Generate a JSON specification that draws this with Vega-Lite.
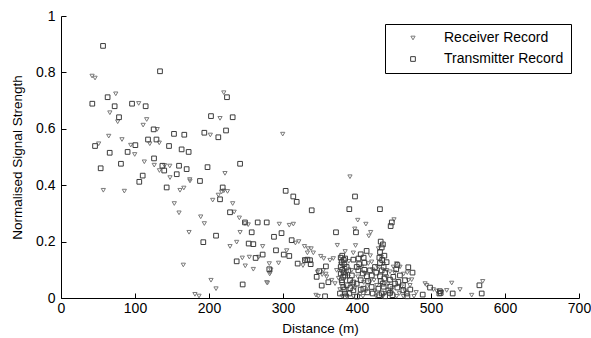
{
"$schema":"https://vega.github.io/schema/vega-lite/v6.json",
"width":518,"height":282,
"autosize":{"type":"none"},
"padding":{"left":61,"top":16,"right":12,"bottom":40},
"background":"white",
"config":{"view":{"stroke":null},"font":"Liberation Sans",
"axis":{"domainColor":"#000","tickColor":"#000","labelColor":"#000","titleColor":"#000","grid":false,"labelFont":"Liberation Sans","titleFont":"Liberation Sans","labelFontSize":14,"titleFontSize":13.5,"titleFontWeight":"normal","tickSize":-5,"domainWidth":1,"tickWidth":1}},
"data":{"values":[
{"d":42,"v":0.787,"r":"R"},{"d":46,"v":0.78,"r":"R"},{"d":74,"v":0.724,"r":"R"},{"d":66,"v":0.657,"r":"R"},{"d":76.6,"v":0.625,"r":"R"},{"d":64.5,"v":0.574,"r":"R"},{"d":82.4,"v":0.562,"r":"R"},{"d":50.9,"v":0.547,"r":"R"},{"d":105,"v":0.69,"r":"R"},{"d":115.8,"v":0.633,"r":"R"},{"d":111,"v":0.613,"r":"R"},{"d":130,"v":0.598,"r":"R"},{"d":94.2,"v":0.542,"r":"R"},{"d":99.6,"v":0.509,"r":"R"},{"d":120,"v":0.547,"r":"R"},{"d":132.8,"v":0.55,"r":"R"},{"d":112.6,"v":0.483,"r":"R"},{"d":126,"v":0.471,"r":"R"},{"d":140,"v":0.47,"r":"R"},{"d":147,"v":0.468,"r":"R"},{"d":133,"v":0.452,"r":"R"},{"d":201.8,"v":0.578,"r":"R"},{"d":214.9,"v":0.637,"r":"R"},{"d":220,"v":0.728,"r":"R"},{"d":299.6,"v":0.581,"r":"R"},{"d":57.2,"v":0.382,"r":"R"},{"d":85.6,"v":0.379,"r":"R"},{"d":147.3,"v":0.427,"r":"R"},{"d":160.8,"v":0.382,"r":"R"},{"d":166,"v":0.39,"r":"R"},{"d":153.1,"v":0.335,"r":"R"},{"d":159.5,"v":0.302,"r":"R"},{"d":173,"v":0.233,"r":"R"},{"d":165.3,"v":0.117,"r":"R"},{"d":174,"v":0.42,"r":"R"},{"d":188.8,"v":0.288,"r":"R"},{"d":193.7,"v":0.264,"r":"R"},{"d":181,"v":0.013,"r":"R"},{"d":186.5,"v":0.007,"r":"R"},{"d":202.7,"v":0.063,"r":"R"},{"d":209.5,"v":0.033,"r":"R"},{"d":205,"v":0.347,"r":"R"},{"d":212.6,"v":0.365,"r":"R"},{"d":220,"v":0.38,"r":"R"},{"d":225,"v":0.378,"r":"R"},{"d":232,"v":0.335,"r":"R"},{"d":221.6,"v":0.442,"r":"R"},{"d":234,"v":0.305,"r":"R"},{"d":241,"v":0.284,"r":"R"},{"d":242,"v":0.233,"r":"R"},{"d":237.4,"v":0.198,"r":"R"},{"d":228.4,"v":0.183,"r":"R"},{"d":245,"v":0.142,"r":"R"},{"d":249,"v":0.114,"r":"R"},{"d":254.5,"v":0.145,"r":"R"},{"d":253,"v":0.26,"r":"R"},{"d":259.9,"v":0.102,"r":"R"},{"d":267,"v":0.145,"r":"R"},{"d":272.5,"v":0.183,"r":"R"},{"d":278,"v":0.055,"r":"R"},{"d":282.8,"v":0.09,"r":"R"},{"d":294,"v":0.124,"r":"R"},{"d":295,"v":0.262,"r":"R"},{"d":308.5,"v":0.258,"r":"R"},{"d":314,"v":0.262,"r":"R"},{"d":316.8,"v":0.195,"r":"R"},{"d":321.3,"v":0.2,"r":"R"},{"d":217,"v":0.376,"r":"R"},{"d":174.3,"v":0.415,"r":"R"},{"d":248.6,"v":0.264,"r":"R"},{"d":390.5,"v":0.43,"r":"R"},{"d":401,"v":0.276,"r":"R"},{"d":412,"v":0.262,"r":"R"},{"d":418.5,"v":0.233,"r":"R"},{"d":416,"v":0.22,"r":"R"},{"d":397,"v":0.245,"r":"R"},{"d":450,"v":0.278,"r":"R"},{"d":373.4,"v":0.187,"r":"R"},{"d":398,"v":0.186,"r":"R"},{"d":347.7,"v":0.006,"r":"R"},{"d":329,"v":0.183,"r":"R"},{"d":334,"v":0.175,"r":"R"},{"d":338,"v":0.175,"r":"R"},{"d":341,"v":0.16,"r":"R"},{"d":355,"v":0.14,"r":"R"},{"d":327,"v":0.115,"r":"R"},{"d":305,"v":0.168,"r":"R"},{"d":333,"v":0.16,"r":"R"},{"d":351,"v":0.148,"r":"R"},{"d":329,"v":0.136,"r":"R"},{"d":281.5,"v":0.122,"r":"R"},{"d":282,"v":0.085,"r":"R"},{"d":283.6,"v":0.1,"r":"R"},{"d":279,"v":0.053,"r":"R"},{"d":346.5,"v":0.092,"r":"R"},{"d":353,"v":0.083,"r":"R"},{"d":358,"v":0.085,"r":"R"},{"d":344.6,"v":0.01,"r":"R"},
{"d":372.5,"v":0.098,"r":"R"},{"d":381.5,"v":0.11,"r":"R"},{"d":388.3,"v":0.075,"r":"R"},{"d":392.8,"v":0.098,"r":"R"},{"d":406.3,"v":0.11,"r":"R"},{"d":410.8,"v":0.087,"r":"R"},{"d":415.3,"v":0.122,"r":"R"},{"d":419.8,"v":0.128,"r":"R"},{"d":423,"v":0.063,"r":"R"},{"d":426.6,"v":0.045,"r":"R"},{"d":417.6,"v":0.057,"r":"R"},{"d":412.2,"v":0.025,"r":"R"},{"d":404.1,"v":0.013,"r":"R"},{"d":395.1,"v":0.006,"r":"R"},{"d":386.1,"v":0.006,"r":"R"},{"d":425.7,"v":0.007,"r":"R"},{"d":437.9,"v":0.016,"r":"R"},{"d":446.9,"v":0.018,"r":"R"},{"d":453.6,"v":0.006,"r":"R"},{"d":457.2,"v":0.016,"r":"R"},{"d":462.6,"v":0.006,"r":"R"},{"d":471.6,"v":0.045,"r":"R"},{"d":473.9,"v":0.065,"r":"R"},{"d":477,"v":0.006,"r":"R"},{"d":492,"v":0.051,"r":"R"},{"d":494.2,"v":0.045,"r":"R"},{"d":503.2,"v":0.03,"r":"R"},{"d":507.7,"v":0.025,"r":"R"},{"d":514.4,"v":0.021,"r":"R"},{"d":521.2,"v":0.027,"r":"R"},{"d":528,"v":0.053,"r":"R"},{"d":539.2,"v":0.03,"r":"R"},{"d":555,"v":0.01,"r":"R"},{"d":569.9,"v":0.059,"r":"R"},{"d":440.1,"v":0.098,"r":"R"},{"d":444.6,"v":0.093,"r":"R"},{"d":449.1,"v":0.11,"r":"R"},{"d":453.6,"v":0.122,"r":"R"},{"d":458.1,"v":0.11,"r":"R"},{"d":469.4,"v":0.063,"r":"R"},{"d":368,"v":0.14,"r":"R"},{"d":363.5,"v":0.134,"r":"R"},{"d":354.5,"v":0.098,"r":"R"},{"d":359,"v":0.075,"r":"R"},{"d":365.8,"v":0.063,"r":"R"},{"d":370.3,"v":0.051,"r":"R"},{"d":463,"v":0.085,"r":"R"},
{"d":378,"v":0.12,"r":"R"},{"d":384,"v":0.165,"r":"R"},{"d":389,"v":0.13,"r":"R"},{"d":392,"v":0.05,"r":"R"},{"d":397,"v":0.035,"r":"R"},{"d":401,"v":0.075,"r":"R"},{"d":409,"v":0.055,"r":"R"},{"d":414,"v":0.04,"r":"R"},{"d":421,"v":0.1,"r":"R"},{"d":424,"v":0.025,"r":"R"},{"d":429,"v":0.175,"r":"R"},{"d":433,"v":0.145,"r":"R"},{"d":436,"v":0.12,"r":"R"},{"d":440,"v":0.075,"r":"R"},{"d":442,"v":0.05,"r":"R"},{"d":448,"v":0.035,"r":"R"},{"d":451,"v":0.09,"r":"R"},{"d":460,"v":0.04,"r":"R"},{"d":465,"v":0.025,"r":"R"},{"d":375,"v":0.07,"r":"R"},{"d":377,"v":0.03,"r":"R"},{"d":386,"v":0.09,"r":"R"},{"d":395,"v":0.16,"r":"R"},{"d":418,"v":0.15,"r":"R"},{"d":428,"v":0.11,"r":"R"},{"d":380,"v":0.006,"r":"R"},{"d":408,"v":0.006,"r":"R"},{"d":435,"v":0.006,"r":"R"},{"d":468,"v":0.09,"r":"R"},{"d":480,"v":0.02,"r":"R"},
{"d":56.8,"v":0.894,"r":"T"},{"d":133.8,"v":0.804,"r":"T"},{"d":42.3,"v":0.689,"r":"T"},{"d":63,"v":0.712,"r":"T"},{"d":72.5,"v":0.68,"r":"T"},{"d":96,"v":0.689,"r":"T"},{"d":114.4,"v":0.68,"r":"T"},{"d":78.4,"v":0.641,"r":"T"},{"d":125.2,"v":0.598,"r":"T"},{"d":46,"v":0.539,"r":"T"},{"d":65.8,"v":0.515,"r":"T"},{"d":81,"v":0.476,"r":"T"},{"d":53.6,"v":0.46,"r":"T"},{"d":90,"v":0.518,"r":"T"},{"d":100.5,"v":0.542,"r":"T"},{"d":117.6,"v":0.562,"r":"T"},{"d":129,"v":0.562,"r":"T"},{"d":125.7,"v":0.495,"r":"T"},{"d":137,"v":0.469,"r":"T"},{"d":139.5,"v":0.452,"r":"T"},{"d":146,"v":0.539,"r":"T"},{"d":152.7,"v":0.582,"r":"T"},{"d":166.6,"v":0.579,"r":"T"},{"d":163,"v":0.527,"r":"T"},{"d":172.5,"v":0.518,"r":"T"},{"d":159.5,"v":0.469,"r":"T"},{"d":169.8,"v":0.457,"r":"T"},{"d":198,"v":0.464,"r":"T"},{"d":242,"v":0.476,"r":"T"},{"d":193.7,"v":0.586,"r":"T"},{"d":212.6,"v":0.57,"r":"T"},{"d":223,"v":0.594,"r":"T"},{"d":202.7,"v":0.645,"r":"T"},{"d":232,"v":0.641,"r":"T"},{"d":224.3,"v":0.712,"r":"T"},
{"d":105.8,"v":0.412,"r":"T"},{"d":110.4,"v":0.434,"r":"T"},{"d":142.8,"v":0.392,"r":"T"},{"d":156.4,"v":0.439,"r":"T"},{"d":187.8,"v":0.415,"r":"T"},{"d":218.5,"v":0.392,"r":"T"},{"d":214.9,"v":0.35,"r":"T"},{"d":228.4,"v":0.304,"r":"T"},{"d":192.3,"v":0.198,"r":"T"},{"d":209.5,"v":0.221,"r":"T"},{"d":248.6,"v":0.268,"r":"T"},{"d":265.8,"v":0.268,"r":"T"},{"d":278,"v":0.268,"r":"T"},{"d":257.7,"v":0.233,"r":"T"},{"d":253.6,"v":0.193,"r":"T"},{"d":259.9,"v":0.191,"r":"T"},{"d":287.8,"v":0.217,"r":"T"},{"d":298,"v":0.23,"r":"T"},{"d":237.4,"v":0.13,"r":"T"},{"d":263,"v":0.142,"r":"T"},{"d":272.5,"v":0.154,"r":"T"},{"d":290.5,"v":0.169,"r":"T"},{"d":301,"v":0.154,"r":"T"},{"d":308.5,"v":0.149,"r":"T"},{"d":281.5,"v":0.102,"r":"T"},{"d":245.5,"v":0.048,"r":"T"},{"d":303.6,"v":0.38,"r":"T"},{"d":313.9,"v":0.36,"r":"T"},{"d":318.5,"v":0.341,"r":"T"},{"d":311.7,"v":0.205,"r":"T"},{"d":319.8,"v":0.122,"r":"T"},
{"d":397.3,"v":0.36,"r":"T"},{"d":389.6,"v":0.315,"r":"T"},{"d":431,"v":0.315,"r":"T"},{"d":338.8,"v":0.311,"r":"T"},{"d":371.6,"v":0.233,"r":"T"},{"d":398.6,"v":0.233,"r":"T"},{"d":447,"v":0.268,"r":"T"},{"d":445.5,"v":0.255,"r":"T"},{"d":413,"v":0.167,"r":"T"},{"d":433.4,"v":0.179,"r":"T"},{"d":405,"v":0.155,"r":"T"},{"d":409,"v":0.143,"r":"T"},{"d":440,"v":0.127,"r":"T"},{"d":454.5,"v":0.117,"r":"T"},{"d":453,"v":0.102,"r":"T"},{"d":469.3,"v":0.109,"r":"T"},{"d":358,"v":0.112,"r":"T"},{"d":349,"v":0.095,"r":"T"},{"d":345.5,"v":0.075,"r":"T"},{"d":329.7,"v":0.134,"r":"T"},{"d":336.5,"v":0.134,"r":"T"},{"d":337.4,"v":0.12,"r":"T"},{"d":352.3,"v":0.044,"r":"T"},{"d":361.3,"v":0.056,"r":"T"},{"d":356.8,"v":0.006,"r":"T"},{"d":333,"v":0.136,"r":"T"},
{"d":401.8,"v":0.098,"r":"T"},{"d":407.7,"v":0.087,"r":"T"},{"d":413.1,"v":0.077,"r":"T"},{"d":405,"v":0.063,"r":"T"},{"d":417.6,"v":0.098,"r":"T"},{"d":424.3,"v":0.11,"r":"T"},{"d":419.8,"v":0.039,"r":"T"},{"d":408.6,"v":0.033,"r":"T"},{"d":399.6,"v":0.051,"r":"T"},{"d":395.1,"v":0.027,"r":"T"},{"d":389.7,"v":0.016,"r":"T"},{"d":383.8,"v":0.016,"r":"T"},{"d":421.2,"v":0.016,"r":"T"},{"d":433.4,"v":0.016,"r":"T"},{"d":444.6,"v":0.018,"r":"T"},{"d":467.2,"v":0.016,"r":"T"},{"d":468.1,"v":0.006,"r":"T"},{"d":488.8,"v":0.012,"r":"T"},{"d":498.7,"v":0.037,"r":"T"},{"d":511.3,"v":0.016,"r":"T"},{"d":513.1,"v":0.018,"r":"T"},{"d":529.3,"v":0.016,"r":"T"},{"d":565.4,"v":0.045,"r":"T"},{"d":568.5,"v":0.016,"r":"T"},{"d":390.6,"v":0.063,"r":"T"},{"d":386.1,"v":0.045,"r":"T"},{"d":381.5,"v":0.075,"r":"T"},{"d":388.3,"v":0.098,"r":"T"},{"d":399.6,"v":0.11,"r":"T"},{"d":395.1,"v":0.136,"r":"T"},{"d":378,"v":0.143,"r":"T"},{"d":379.3,"v":0.128,"r":"T"},{"d":378,"v":0.11,"r":"T"},{"d":378,"v":0.087,"r":"T"},{"d":379.3,"v":0.063,"r":"T"},{"d":381.5,"v":0.039,"r":"T"},{"d":377,"v":0.016,"r":"T"},{"d":431.1,"v":0.163,"r":"T"},{"d":430.2,"v":0.143,"r":"T"},{"d":431.1,"v":0.124,"r":"T"},{"d":433.4,"v":0.098,"r":"T"},{"d":431.1,"v":0.077,"r":"T"},{"d":434.7,"v":0.051,"r":"T"},{"d":428.8,"v":0.033,"r":"T"},{"d":437,"v":0.069,"r":"T"},{"d":444.6,"v":0.065,"r":"T"},{"d":449.1,"v":0.075,"r":"T"},{"d":451.4,"v":0.051,"r":"T"},{"d":455.9,"v":0.057,"r":"T"},{"d":464.9,"v":0.063,"r":"T"},{"d":462.6,"v":0.027,"r":"T"},{"d":454.5,"v":0.037,"r":"T"},{"d":442.4,"v":0.027,"r":"T"},{"d":512,"v":0.024,"r":"T"},
{"d":380,"v":0.15,"r":"T"},{"d":382,"v":0.135,"r":"T"},{"d":383,"v":0.12,"r":"T"},{"d":380,"v":0.1,"r":"T"},{"d":382,"v":0.09,"r":"T"},{"d":384,"v":0.08,"r":"T"},{"d":380,"v":0.055,"r":"T"},{"d":383,"v":0.03,"r":"T"},{"d":385,"v":0.006,"r":"T"},{"d":386,"v":0.11,"r":"T"},{"d":384,"v":0.14,"r":"T"},{"d":435,"v":0.19,"r":"T"},{"d":432,"v":0.2,"r":"T"},{"d":437,"v":0.15,"r":"T"},{"d":434,"v":0.135,"r":"T"},{"d":436,"v":0.11,"r":"T"},{"d":438,"v":0.09,"r":"T"},{"d":432,"v":0.06,"r":"T"},{"d":436,"v":0.04,"r":"T"},{"d":430,"v":0.01,"r":"T"},{"d":438,"v":0.006,"r":"T"},{"d":393,"v":0.08,"r":"T"},{"d":403,"v":0.12,"r":"T"},{"d":410,"v":0.1,"r":"T"},{"d":415,"v":0.06,"r":"T"},{"d":420,"v":0.08,"r":"T"},{"d":426,"v":0.09,"r":"T"},{"d":414,"v":0.02,"r":"T"},{"d":400,"v":0.005,"r":"T"},{"d":405,"v":0.03,"r":"T"},{"d":445,"v":0.04,"r":"T"},{"d":458,"v":0.08,"r":"T"},{"d":462,"v":0.045,"r":"T"},{"d":448,"v":0.01,"r":"T"},{"d":472,"v":0.03,"r":"T"},{"d":475,"v":0.09,"r":"T"},{"d":395,"v":0.055,"r":"T"},{"d":391,"v":0.035,"r":"T"},{"d":410,"v":0.125,"r":"T"},{"d":402,"v":0.14,"r":"T"}
]},
"mark":{"type":"point","filled":false,"strokeWidth":1,"opacity":1},
"encoding":{
"x":{"field":"d","type":"quantitative","scale":{"domain":[0,700],"nice":false,"zero":false},
 "axis":{"values":[0,100,200,300,400,500,600,700],"title":"Distance (m)","labelPadding":8,"titleX":259,"titleY":30,"titleBaseline":"middle","titleAnchor":"middle","labelFlush":false}},
"y":{"field":"v","type":"quantitative","scale":{"domain":[0,1],"nice":false},
 "axis":{"values":[0,0.2,0.4,0.6,0.8,1],"format":"~g","title":"Normalised Signal Strength","labelPadding":11,"titleX":-44,"titleY":141,"titleAngle":270,"titleBaseline":"middle","titleAnchor":"middle","labelFlush":false}},
"shape":{"field":"r","type":"nominal","scale":{"domain":["R","T"],"range":["triangle-down","square"]},
 "legend":{"title":null,"orient":"none","legendX":324,"legendY":8,"strokeColor":"#000","fillColor":"#fff","padding":7,"rowPadding":7,"symbolOffset":14,"labelOffset":24,"labelFontSize":14,"labelFont":"Liberation Sans","labelColor":"#000","labelLimit":300,"symbolStrokeWidth":1,
  "labelExpr":"datum.value == 'R' ? 'Receiver Record' : 'Transmitter Record'"}},
"color":{"field":"r","type":"nominal","scale":{"domain":["R","T"],"range":["#7a7a7a","#3c3c3c"]}},
"size":{"field":"r","type":"ordinal","scale":{"domain":["R","T"],"range":[18,22]}}
}
}
